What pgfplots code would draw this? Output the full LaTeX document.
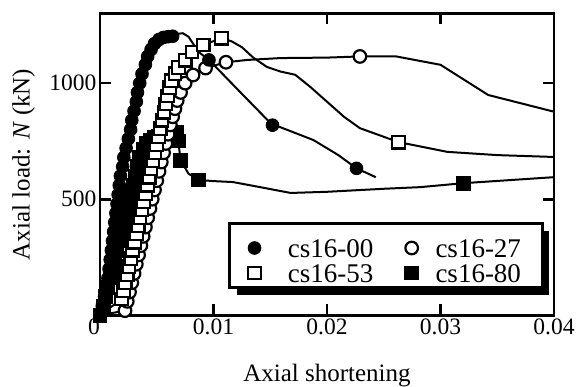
\documentclass[border=0pt]{standalone}
\usepackage{pgfplots}
\pgfplotsset{compat=1.18}
\usepackage{fontspec}
\setmainfont{Liberation Serif}
\usetikzlibrary{shadows}
\pgfplotsset{
  ln/.style={black, line width=2pt, no markers, forget plot},
  fc/.style={black, line width=2pt, mark=*, mark size=6.3pt, mark options={solid, fill=black, draw=black, line width=1pt}, forget plot},
  oc/.style={black, line width=2pt, mark=*, mark size=6.3pt, mark options={solid, fill=white, draw=black, line width=2.2pt}, forget plot},
  os/.style={black, line width=2pt, mark=square*, mark size=6.3pt, mark options={solid, fill=white, draw=black, line width=2.2pt}, forget plot},
  fs/.style={black, line width=2pt, mark=square*, mark size=6.8pt, mark options={solid, fill=black, draw=black, line width=1pt}, forget plot},
  legFC/.style={legend image code/.code={\draw[only marks, mark=*, mark size=6.3pt, mark options={fill=black,draw=black,line width=1pt}] plot coordinates {(0pt,-5pt)};}},
  legOC/.style={legend image code/.code={\draw[only marks, mark=*, mark size=6.3pt, mark options={fill=white,draw=black,line width=2.2pt}] plot coordinates {(0pt,-5pt)};}},
  legOS/.style={legend image code/.code={\draw[only marks, mark=square*, mark size=6.3pt, mark options={fill=white,draw=black,line width=2.2pt}] plot coordinates {(0pt,-5pt)};}},
  legFS/.style={legend image code/.code={\draw[only marks, mark=square*, mark size=6.8pt, mark options={fill=black,draw=black,line width=1pt}] plot coordinates {(0pt,-5pt)};}},
}
\begin{document}
\begin{tikzpicture}
\begin{axis}[
  at={(0pt,0pt)}, anchor=south west,
  scale only axis, width=454pt, height=301.8pt,
  xmin=0, xmax=0.04, ymin=0, ymax=1300,
  scaled x ticks=false, scaled y ticks=false,
  xtick={0,0.01,0.02,0.03,0.04},
  xticklabels={\llap{0},0.01,0.02,0.03,0.04},
  ytick={500,1000}, yticklabels={500,1000},
  /pgf/number format/assume math mode=true,
  tick align=inside, major tick length=11pt,
  axis line style={line width=2.6pt},
  tick style={line width=2.6pt, black},
  tick label style={font=\fontsize{23.5}{28}\selectfont},
  label style={font=\fontsize{25}{30}\selectfont},
  xlabel={Axial shortening},
  ylabel={Axial load: \textit{N} (kN)},
  xlabel style={at={(axis description cs:0.5,-0.199)}, anchor=center},
  ylabel style={at={(axis description cs:-0.168,0.5)}, anchor=center},
  legend columns=2,
  legend cell align=left,
  legend style={at={(rel axis cs:0.9774,0.0879)}, anchor=south east,
    draw=black, line width=2.5pt, fill=white,
    font=\fontsize{27}{30}\selectfont,
    inner xsep=18.5pt, inner ysep=2.5pt, row sep=-9pt,
    nodes={inner sep=0pt, text height=31pt, text depth=3pt},
    /tikz/every odd column/.append style={column sep=17pt},
    /tikz/every even column/.append style={column sep=31.6pt},
    drop shadow={shadow xshift=7pt, shadow yshift=-7pt, fill=black, opacity=1}},
]
% ---------------- cs16-80 (filled squares)
\addplot[fs] coordinates {
(0,0)(0.0003,40)(0.0005,80)(0.0007,120)(0.0009,160)(0.0011,200)(0.0013,240)(0.0015,280)
(0.0017,320)(0.0019,360)(0.0021,400)(0.0023,440)(0.0025,480)(0.0027,520)(0.0029,560)
(0.0031,600)(0.0033,640)(0.0035,680)(0.0038,715)(0.0041,740)(0.0044,755)(0.0048,765)
(0.0052,772)(0.0056,776)(0.0060,780)(0.0064,785)(0.0068,790)(0.0069,750)(0.0071,668)};
\addplot[ln] coordinates {(0.0071,668)(0.0078,610)(0.0087,583)(0.0100,578)(0.0117,574)
(0.0140,553)(0.0168,527)(0.0200,532)(0.0250,545)(0.0282,552)(0.0320,569)(0.0360,582)(0.0400,595)};
\addplot[fs, only marks] coordinates {(0.0087,583)(0.0320,569)};
% ---------------- cs16-27 (open circles)
\addplot[ln] coordinates {(0,0)(0.0022,20)};
\addplot[oc] coordinates {
(0.0022,20)(0.0024,60)(0.0026,100)(0.0028,140)(0.0030,180)(0.0032,220)(0.0034,260)
(0.0036,300)(0.0038,340)(0.0040,380)(0.0042,420)(0.0044,460)(0.0046,500)(0.0048,540)
(0.0050,580)(0.0052,620)(0.0054,660)(0.0056,700)(0.0058,740)(0.0060,780)(0.0062,820)
(0.0064,855)(0.0066,890)(0.0068,925)(0.0071,960)(0.0075,1000)(0.0082,1035)(0.0093,1065)(0.0111,1090)};
\addplot[ln] coordinates {(0.0111,1090)(0.0130,1100)(0.0159,1108)(0.0200,1110)(0.0229,1115)
(0.0261,1115)(0.0300,1079)(0.0342,949)(0.0400,877)};
\addplot[oc, only marks] coordinates {(0.0229,1115)};
% ---------------- cs16-00 (filled circles)
\addplot[fc] coordinates {
(0,0)(0.0002,40)(0.0004,80)(0.0006,120)(0.0007,160)(0.0008,200)(0.0009,240)(0.0010,280)
(0.0011,320)(0.0012,360)(0.0013,400)(0.0014,440)(0.0015,480)(0.0016,520)(0.0017,560)
(0.0018,600)(0.0020,640)(0.0021,680)(0.0023,720)(0.0025,760)(0.0027,800)(0.0028,840)
(0.0030,880)(0.0032,920)(0.0033,960)(0.0035,1000)(0.0037,1040)(0.0040,1080)(0.0042,1115)
(0.0045,1145)(0.0048,1170)(0.0052,1188)(0.0056,1197)(0.0060,1200)(0.0064,1202)};
\addplot[ln] coordinates {(0.0064,1202)(0.0068,1212)(0.0073,1215)(0.0078,1200)(0.0082,1170)
(0.0088,1130)(0.0096,1100)(0.0125,954)(0.0152,819)(0.0159,810)(0.0188,755)(0.0210,690)
(0.0226,633)(0.0243,595)};
\addplot[fc, only marks] coordinates {(0.0096,1100)(0.0152,819)(0.0226,633)};
% ---------------- cs16-53 (open squares)
\addplot[ln] coordinates {(0,0)(0.0019,70)};
\addplot[os] coordinates {
(0.00190,70)(0.00206,105)(0.00222,140)(0.00239,175)(0.00255,210)(0.00271,245)(0.00287,280)
(0.00303,315)(0.00320,350)(0.00336,385)(0.00352,420)(0.00368,455)(0.00384,490)(0.00401,525)
(0.00417,560)(0.00433,595)(0.00449,630)(0.00465,665)(0.00482,700)(0.00498,735)(0.00514,770)
(0.00530,805)(0.00546,840)(0.00563,875)(0.00579,910)(0.00595,945)(0.00611,980)(0.0063,1010)
(0.0066,1040)(0.0069,1068)(0.0075,1099)(0.0081,1134)(0.0091,1164)(0.0107,1194)};
\addplot[ln] coordinates {(0.0107,1194)(0.0116,1180)(0.0125,1155)(0.0135,1110)(0.0147,1070)
(0.0159,1050)(0.0172,1036)(0.0185,985)(0.0200,920)(0.0215,855)(0.0229,806)(0.0263,746)
(0.0306,704)(0.0350,690)(0.0400,682)};
\addplot[os, only marks] coordinates {(0.0263,746)};
% ---------------- legend
\addlegendimage{legFC}\addlegendentry{\hspace*{10pt}cs16-00}
\addlegendimage{legOC}\addlegendentry{cs16-27\hspace*{3pt}}
\addlegendimage{legOS}\addlegendentry{\hspace*{10pt}cs16-53}
\addlegendimage{legFS}\addlegendentry{cs16-80\hspace*{3pt}}
\end{axis}
\pgfresetboundingbox
\path (-100pt,-71.7pt) rectangle (477pt,315.3pt);
\end{tikzpicture}
\end{document}
